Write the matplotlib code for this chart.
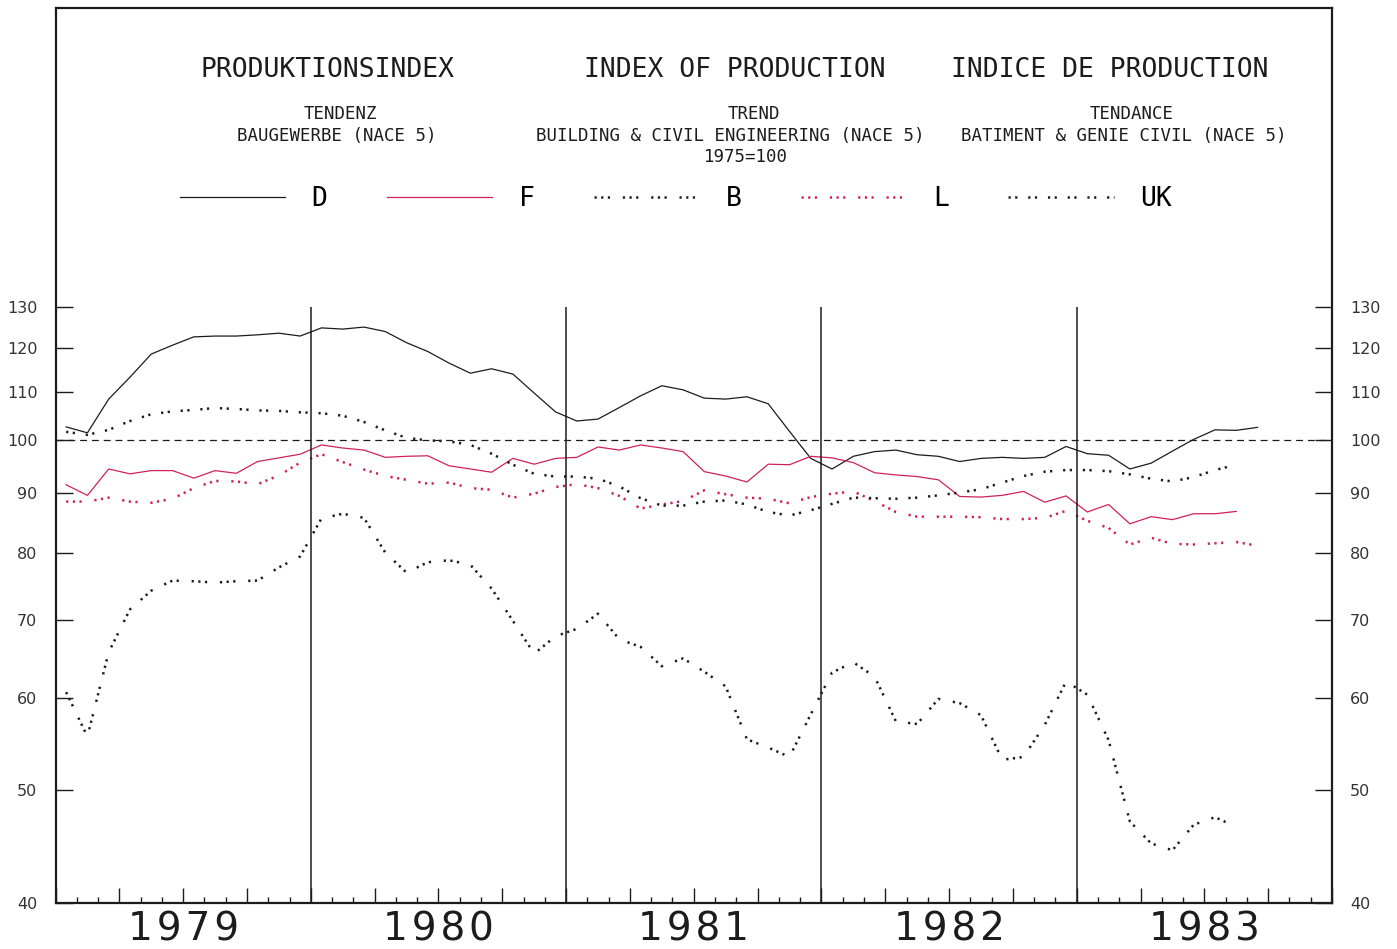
import numpy as np
import matplotlib.pyplot as plt
from matplotlib.ticker import FixedLocator, FixedFormatter, MultipleLocator, NullLocator
from matplotlib.transforms import blended_transform_factory

plt.rcParams['lines.scale_dashes'] = False

# === Data (monthly trend values, Jan 1979 onwards, 1975=100) ===
YEARS = [1979, 1980, 1981, 1982, 1983]
YTICKS = [40, 50, 60, 70, 80, 90, 100, 110, 120, 130]

D = [102.6, 101.4, 108.4, 113.2, 118.5, 120.6, 122.6, 122.8, 122.8, 123.1, 123.5, 122.8,
     124.8, 124.5, 125.0, 123.9, 121.2, 119.1, 116.4, 114.1, 115.1, 113.9, 109.7, 105.7,
     103.8, 104.2, 106.6, 109.1, 111.3, 110.4, 108.6, 108.4, 108.9, 107.4, 101.7, 96.4,
     94.4, 96.8, 97.7, 98.0, 97.1, 96.8, 95.8, 96.4, 96.6, 96.4, 96.6, 98.7,
     97.3, 97.0, 94.4, 95.5, 97.8, 100.1, 102.0, 101.9, 102.5]

F = [91.5, 89.6, 94.4, 93.5, 94.1, 94.1, 92.7, 94.1, 93.6, 95.8, 96.5, 97.2,
     99.0, 98.4, 98.0, 96.6, 96.8, 96.9, 95.0, 94.4, 93.8, 96.4, 95.3, 96.4,
     96.6, 98.6, 98.0, 99.0, 98.4, 97.7, 93.9, 93.1, 92.0, 95.3, 95.2, 96.8,
     96.5, 95.6, 93.7, 93.3, 93.0, 92.4, 89.4, 89.3, 89.6, 90.3, 88.4, 89.5,
     86.7, 88.0, 84.7, 85.9, 85.4, 86.4, 86.4, 86.8]

B = [60.7, 55.6, 65.7, 71.5, 74.2, 75.7, 75.6, 75.4, 75.6, 75.7, 77.7, 79.4,
     85.6, 86.4, 85.7, 80.0, 76.9, 78.5, 78.8, 78.1, 74.5, 69.9, 65.5, 67.8,
     68.8, 70.9, 67.4, 66.4, 63.9, 64.9, 63.2, 61.4, 55.3, 54.4, 53.4, 58.1,
     63.1, 64.4, 62.6, 57.3, 57.0, 59.9, 59.4, 58.0, 53.1, 53.4, 56.9, 62.0,
     60.4, 55.2, 47.0, 45.0, 44.4, 46.7, 47.4, 46.5]

L = [88.5, 88.5, 89.2, 88.5, 88.3, 89.0, 90.9, 92.2, 92.1, 91.6, 93.2, 95.6,
     97.2, 95.7, 94.3, 93.1, 92.4, 91.7, 91.9, 90.9, 90.6, 89.2, 89.9, 91.1,
     91.6, 90.9, 89.5, 87.3, 88.0, 88.6, 90.5, 89.8, 89.2, 89.0, 88.2, 89.3,
     89.9, 90.3, 88.6, 86.7, 85.9, 85.9, 85.9, 85.8, 85.5, 85.5, 85.7, 86.9,
     85.2, 84.0, 81.3, 82.4, 81.4, 81.3, 81.5, 81.7, 81.1]

UK = [101.6, 101.0, 102.0, 103.8, 105.2, 105.8, 106.1, 106.5, 106.3, 106.0, 105.9, 105.6,
      105.4, 104.9, 103.6, 101.9, 100.4, 99.9, 99.7, 99.0, 97.3, 95.2, 93.5, 93.0,
      93.0, 92.6, 91.2, 89.1, 87.8, 87.8, 88.5, 88.7, 88.0, 86.7, 86.1, 87.0,
      88.1, 89.2, 89.1, 89.0, 89.2, 89.6, 90.1, 90.7, 91.9, 93.1, 93.9, 94.2,
      94.2, 94.0, 93.4, 92.6, 92.1, 92.9, 94.2, 95.2]


def month_x(values):
    # mid-month positions in fractional years
    return YEARS[0] + (np.arange(len(values)) + 0.5) / 12


INK = '#1c1c1c'
RED = '#cf2356'
MONO = 'DejaVu Sans Mono'

TRIPLE = (0, (1.6, 3.2, 1.6, 3.2, 1.6, 9.2))   # "+++ +++"
PAIR = (0, (1.6, 3.2, 1.6, 7.8))               # "++ ++"

fig = plt.figure(figsize=(13.97, 9.49), dpi=100)
ax = fig.add_axes([55.5 / 1397, 1 - 903 / 949, (1332 - 55.5) / 1397, (903 - 8) / 949])

# series
ax.plot(month_x(D), D, color=INK, lw=0.9, label='D')
ax.plot(month_x(F), F, color=RED, lw=0.9, label='F')
ax.plot(month_x(B), B, color=INK, lw=1.8, ls=TRIPLE, label='B')
ax.plot(month_x(L), L, color=RED, lw=1.8, ls=TRIPLE, label='L')
ax.plot(month_x(UK), UK, color=INK, lw=1.8, ls=PAIR, label='UK')

# reference line and year separators
ax.axhline(100, color=INK, lw=0.9, ls=(0, (5, 3.5)))
ax.vlines(YEARS[1:], 40, 130, color=INK, lw=1.1)

# axes
ax.set_yscale('log')
ax.set_ylim(40, 235)
ax.set_xlim(1979, 1984)
ax.yaxis.set_major_locator(FixedLocator(YTICKS))
ax.yaxis.set_major_formatter(FixedFormatter([str(v) for v in YTICKS]))
ax.yaxis.set_minor_locator(NullLocator())
ax.tick_params(axis='y', which='major', direction='in', length=12, width=1,
               left=True, right=True, labelleft=True, labelright=True,
               pad=13, labelsize=11.5, labelcolor='#333333', color=INK)
ax.xaxis.set_major_locator(MultipleLocator(0.25))
ax.xaxis.set_minor_locator(MultipleLocator(1 / 12))
ax.tick_params(axis='x', which='major', direction='in', length=11, width=1,
               labelbottom=False, color=INK)
ax.tick_params(axis='x', which='minor', direction='in', length=4.5, width=1, color=INK)
for sp in ax.spines.values():
    sp.set_linewidth(1.6)
    sp.set_color(INK)

# wide year labels under each year
trans = blended_transform_factory(ax.transData, ax.transAxes)
for yr in YEARS:
    ax.text(yr + 0.5, -0.030, '\u200a'.join(str(yr)), transform=trans,
            ha='center', va='center', fontsize=28, color=INK)

# headings
heads = [
    (0.2127, 0.931, 'PRODUKTIONSINDEX', 19),
    (0.5323, 0.931, 'INDEX OF PRODUCTION', 19),
    (0.8260, 0.931, 'INDICE DE PRODUCTION', 19),
    (0.2229, 0.8816, 'TENDENZ', 12.5),
    (0.2205, 0.857, 'BAUGEWERBE (NACE 5)', 12.5),
    (0.5472, 0.8816, 'TREND', 12.5),
    (0.5284, 0.857, 'BUILDING & CIVIL ENGINEERING (NACE 5)', 12.5),
    (0.5409, 0.8335, '1975=100', 12.5),
    (0.8433, 0.8816, 'TENDANCE', 12.5),
    (0.8371, 0.857, 'BATIMENT & GENIE CIVIL (NACE 5)', 12.5),
]
for x, y, s, fs in heads:
    ax.text(x, y, s, transform=ax.transAxes, ha='center', va='center',
            family=MONO, fontsize=fs, color=INK)

ax.legend(loc='center', bbox_to_anchor=(0.486, 0.7866), ncol=5, frameon=False,
          handlelength=4.0, handletextpad=1.0, columnspacing=2.25,
          prop={'family': MONO, 'size': 19})

fig.savefig('out.png', dpi=100)
